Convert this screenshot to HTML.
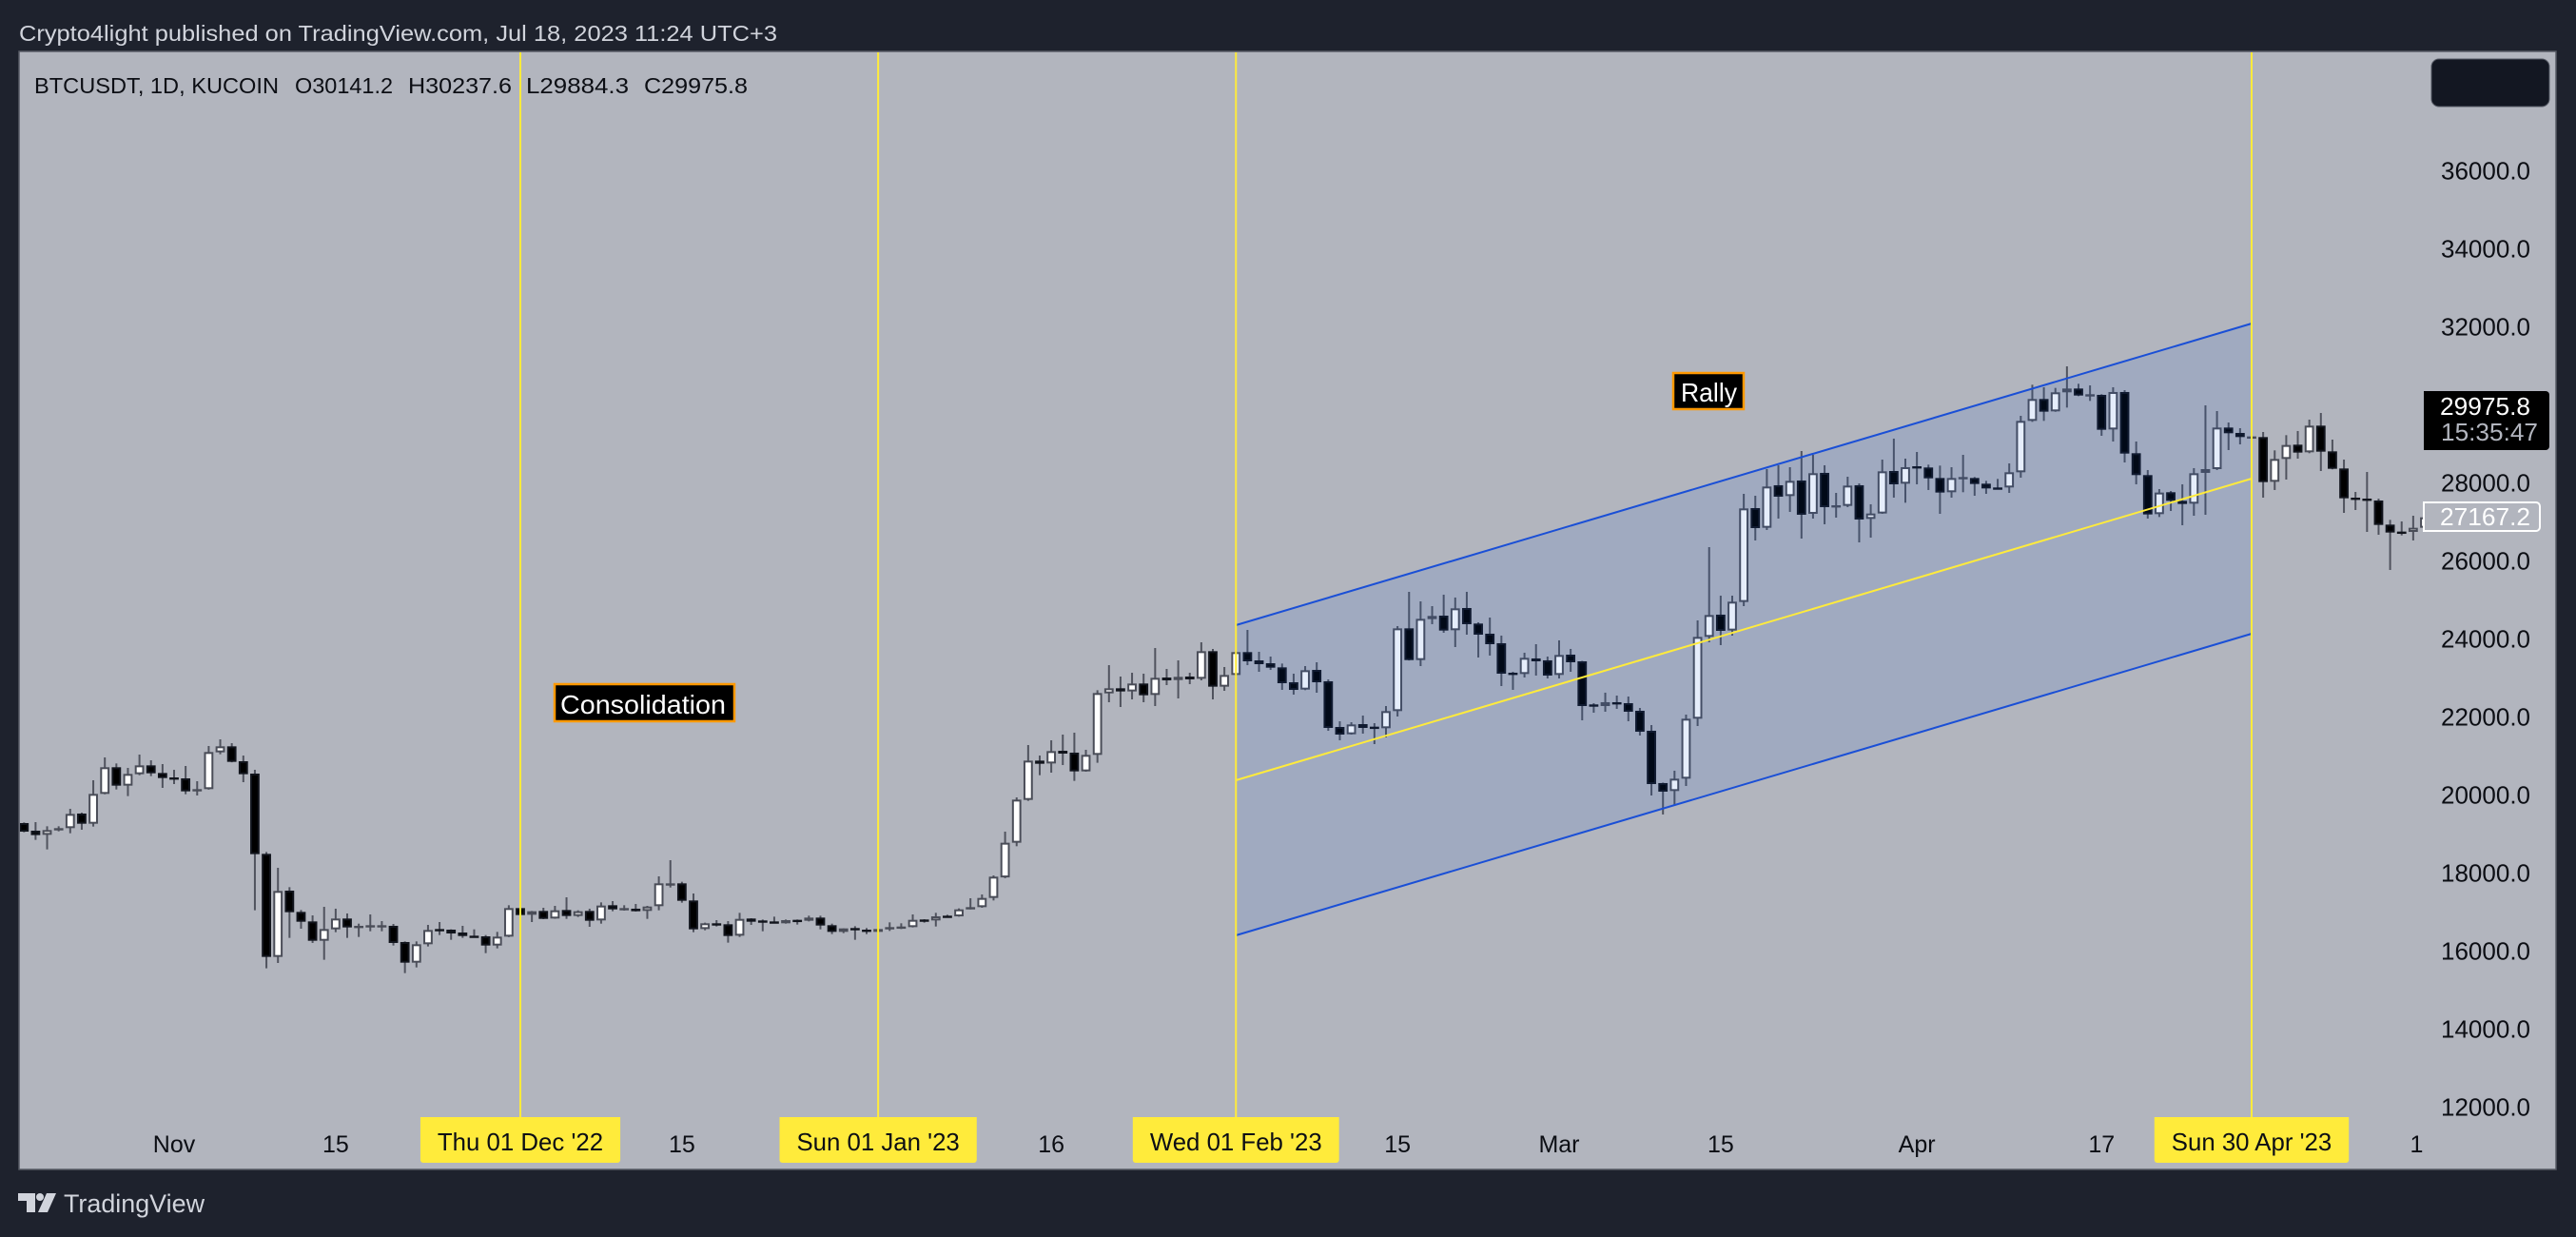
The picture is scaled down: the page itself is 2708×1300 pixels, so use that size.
<!DOCTYPE html>
<html lang="en">
<head>
<meta charset="utf-8">
<title>BTCUSDT chart</title>
<style>
html,body{margin:0;padding:0;background:#1e222d;width:2708px;height:1300px;overflow:hidden}
svg{display:block;font-family:"Liberation Sans",sans-serif}
</style>
</head>
<body>
<svg id="chart" xmlns="http://www.w3.org/2000/svg" width="2708" height="1300" viewBox="0 0 2708 1300">
  <rect x="0" y="0" width="2708" height="1300" fill="#1e222d"/>
  <text x="20" y="43" font-size="23" fill="#d1d4dc" textLength="797" lengthAdjust="spacingAndGlyphs">Crypto4light published on TradingView.com, Jul 18, 2023 11:24 UTC+3</text>
  <rect x="20" y="54" width="2667" height="1175" fill="#b2b5be" stroke="#565a65" stroke-width="1.5"/>
  <defs>
    <clipPath id="plot-clip"><rect x="21" y="55" width="2665" height="1173"/></clipPath>
  </defs>
  <g id="candles" clip-path="url(#plot-clip)"></g>
  <g id="drawings"></g>
  <g id="legend" font-size="23" fill="#0c0e14">
    <text x="36" y="98" textLength="257" lengthAdjust="spacingAndGlyphs">BTCUSDT, 1D, KUCOIN</text>
    <text x="310" y="98" textLength="103" lengthAdjust="spacingAndGlyphs">O30141.2</text>
    <text x="429" y="98" textLength="109" lengthAdjust="spacingAndGlyphs">H30237.6</text>
    <text x="553" y="98" textLength="108" lengthAdjust="spacingAndGlyphs">L29884.3</text>
    <text x="677" y="98" textLength="109" lengthAdjust="spacingAndGlyphs">C29975.8</text>
  </g>
  <rect x="2556" y="62" width="124" height="50" rx="8" fill="#131722" stroke="#565a65" stroke-width="1"/>
  <g id="y-axis"></g>
  <g id="x-axis"></g>
  <g>
    <path d="M2548 411H2676a4 4 0 0 1 4 4V469a4 4 0 0 1 -4 4H2548Z" fill="#000"/>
    <text x="2565" y="436" font-size="26" fill="#fff" textLength="95" lengthAdjust="spacingAndGlyphs">29975.8</text>
    <text x="2566" y="463" font-size="26" fill="#b2b5be" textLength="102" lengthAdjust="spacingAndGlyphs">15:35:47</text>
  </g>
  <g>
    <path d="M2548 528H2666a4 4 0 0 1 4 4V554a4 4 0 0 1 -4 4H2548Z" fill="#b2b5be" stroke="#fff" stroke-width="2"/>
    <text x="2565" y="552" font-size="26" fill="#fff" textLength="95" lengthAdjust="spacingAndGlyphs">27167.2</text>
  </g>
  <g>
    <rect x="583" y="719" width="189" height="39" fill="#000" stroke="#ff9800" stroke-width="2.5"/>
    <text x="589" y="750" font-size="28" fill="#fff" textLength="174" lengthAdjust="spacingAndGlyphs">Consolidation</text>
  </g>
  <g>
    <rect x="1759" y="392" width="74" height="38" fill="#000" stroke="#ff9800" stroke-width="2.5"/>
    <text x="1767" y="422" font-size="28" fill="#fff" textLength="59" lengthAdjust="spacingAndGlyphs">Rally</text>
  </g>
  <g fill="#d1d4dc">
    <path d="M19 1254H37V1274H28V1262H19Z"/>
    <circle cx="42" cy="1258" r="4"/>
    <path d="M49 1254H59L50 1274H40Z"/>
    <text x="67" y="1274" font-size="27" textLength="148" lengthAdjust="spacingAndGlyphs">TradingView</text>
  </g>
</svg>
<script>
// Daily BTCUSDT bars, first bar = 19 Oct 2022
const opens = [
19293,19098,18992,19106,19163,19537,19276,20041,20724,20252,
20545,20772,20577,20463,20439,20106,20163,21106,21260,20878,
20561,18504,15862,17561,17016,16772,16276,16569,16846,16626,
16626,16626,16659,16244,15715,16187,16577,16561,16488,16406,
16390,16154,16382,17114,16943,17041,16846,17065,16911,17041,
16797,17187,17065,17098,17041,17163,17715,17748,17309,16577,
16724,16699,16406,16846,16797,16772,16724,16813,16789,16870,
16675,16504,16602,16561,16504,16569,16602,16626,16821,16797,
16919,16902,17089,17138,17374,17900,18789,19886,20894,20821,
21146,21098,20618,21041,22618,22748,22667,22870,22577,23024,
22959,23049,22992,23699,22789,23089,23675,23463,23390,23284,
22902,22715,23219,22927,21756,21569,21829,21764,21724,22163,
24284,23471,24521,24610,24236,24805,24407,24147,23903,23147,
23114,23513,23464,23090,23610,23439,22334,22293,22391,22366,
22171,21659,20318,20114,20431,21968,24065,24635,24228,24960,
27366,26862,27952,27675,28074,27220,28269,27391,27423,27952,
27090,27228,28317,27992,28439,28407,28138,27773,28114,28138,
27992,27895,27895,28285,29602,30163,29846,30334,30431,30236,
30269,29382,30342,28773,28212,27212,27773,27553,27480,28269,
28366,29431,29293,29171,29187,28041,28626,28992,28797,29480,
28821,28382,27634,27610,27561,26943,26765,26756,26862];
const highs = [
19309,19317,19211,19211,19658,19561,20390,20976,20821,20707,
21049,20902,20805,20658,20756,20366,21268,21439,21341,21024,
20658,18553,18146,17650,17065,16927,17146,17098,16976,16715,
16951,16780,16707,16260,16260,16683,16756,16569,16659,16569,
16423,16504,17187,17138,17040,17122,17171,17390,17057,17098,
17260,17293,17187,17219,17171,17927,18341,17789,17488,16740,
16805,16780,16992,16854,16821,16894,16821,16821,16919,16919,
16715,16593,16650,16602,16585,16748,16724,16951,16829,16992,
16943,17106,17366,17463,17951,19073,19951,21293,21024,21415,
21561,21610,21171,22699,23341,23049,23146,23122,23780,23244,
23463,23146,23927,23756,23293,23690,24244,23683,23561,23382,
23122,23317,23415,22976,21902,21878,22049,21854,22293,24341,
25219,24976,24854,25147,25074,25220,24439,24561,24098,23171,
23659,23878,23561,23976,23757,23450,22366,22635,22561,22537,
22244,21805,20330,20635,22074,24488,26366,25122,25122,27732,
27683,28366,28464,28415,28830,28732,28464,27756,28171,28000,
27464,28610,29147,28634,28805,28480,28456,28415,28732,28163,
28065,28114,28512,29732,30529,30464,30447,31000,30553,30512,
30285,30464,30390,29073,28342,27854,27805,27976,28391,30000,
29854,29561,29415,29252,29317,28846,29236,29342,29634,29805,
29122,28610,27781,28293,27610,27065,27025,27171,27220];
const lows = [
19057,18862,18618,19081,19032,19122,19203,20030,20154,19984,
20520,20496,20195,20293,20032,20000,20150,21057,20850,20341,
17057,15569,15707,16350,16585,16220,15789,16496,16350,16374,
16520,16520,16154,15447,15593,16130,16423,16301,16350,16366,
15959,16081,16370,16919,16756,16830,16840,16837,16886,16634,
16715,17033,17049,17025,16837,17057,17642,17252,16496,16545,
16642,16228,16374,16683,16520,16724,16715,16691,16772,16569,
16447,16472,16301,16447,16496,16528,16577,16618,16740,16642,
16886,16894,17080,17122,17309,17880,18699,19862,20520,20585,
20780,20374,20610,20837,22390,22268,22463,22390,22293,22829,
22488,22854,22951,22463,22683,23073,23341,23171,23219,22707,
22585,22700,22634,21658,21415,21561,21585,21317,21488,22024,
23460,23317,24391,24171,23805,24122,23537,23586,22805,22708,
23025,23074,23000,23000,23171,21927,22122,22147,22220,21903,
21537,20000,19513,19740,20244,21781,23927,23854,24098,24854,
26537,26805,27098,27269,26586,27098,26952,27122,27391,26488,
26610,27220,27635,27504,27976,27830,27220,27634,27773,27683,
27732,27846,27756,28147,29577,29602,29835,29943,30236,30114,
29220,29073,28537,27976,27098,27138,27293,26927,27171,27195,
28342,28854,29000,29147,27634,27830,28098,28634,28773,28317,
28360,27244,27317,26756,26683,25781,26667,26537,26813];
const closes = [
19073,18984,19114,19163,19528,19276,20041,20724,20252,20553,
20772,20569,20447,20415,20106,20163,21114,21260,20862,20545,
18496,15862,17553,17008,16764,16276,16577,16846,16618,16659,
16675,16675,16220,15715,16187,16553,16528,16463,16398,16374,
16154,16382,17114,16935,17033,16837,17057,16911,17033,16789,
17179,17081,17114,17033,17154,17748,17748,17301,16569,16724,
16691,16398,16837,16764,16748,16740,16805,16772,16870,16667,
16504,16593,16553,16504,16577,16626,16642,16813,16789,16902,
16894,17081,17138,17374,17919,18789,19894,20894,20813,21138,
21073,20618,21041,22626,22748,22667,22870,22569,23016,22951,
23041,22976,23699,22789,23089,23675,23439,23366,23276,22878,
22707,23211,22902,21732,21561,21821,21732,21707,22163,24284,
23471,24528,24602,24228,24797,24391,24122,23878,23122,23106,
23529,23439,23074,23602,23415,22293,22277,22391,22342,22147,
21635,20293,20098,20431,21968,24065,24626,24220,24968,27358,
26854,27919,27659,28065,27196,28261,27391,27439,27943,27074,
27228,28309,27976,28415,28399,28130,27765,28138,28163,27984,
27870,27862,28285,29602,30163,29838,30334,30431,30252,30285,
29374,30342,28764,28212,27204,27765,27553,27472,28260,28366,
29431,29285,29187,29204,28033,28626,28984,28789,29480,28813,
28374,27618,27594,27553,26935,26740,26716,26862,27130];

// Price-axis tick labels (30000 sits under the last-price tag)
const priceTicks = [36000,34000,32000,28000,26000,24000,22000,20000,18000,16000,14000,12000];
// Time-axis ticks: bar number and printed label
const timeTickBars = [13,27,57,89,119,133,147,164,180,207.3];
const timeTickLabels = ['Nov','15','15','16','15','Mar','15','Apr','17','1'];
// Vertical date markers: bar number and printed label
const markerBars = [43,74,105,193];
const markerLabels = ["Thu 01 Dec '22","Sun 01 Jan '23","Wed 01 Feb '23","Sun 30 Apr '23"];
// Parallel channel anchored on two bars, prices of each rail
const channelBars = [105,193];
const channelTop = [24366,32098];
const channelMid = [20390,28122];
const channelBottom = [16415,24146];

const NS = 'http://www.w3.org/2000/svg';
function xScale(bar){ return 547 + (bar - 43) * 12.1333; }
function yScale(price){ return 180 + (36000 - price) * 0.041; }
function make(tag, parent, attrs, text){
  const el = document.createElementNS(NS, tag);
  for (const k in attrs) el.setAttribute(k, attrs[k]);
  if (text !== undefined) el.textContent = text;
  parent.appendChild(el);
  return el;
}

const candleLayer = document.getElementById('candles');
opens.forEach(function(open, i){
  const close = closes[i];
  const up = close >= open;
  const x = xScale(i);
  const group = make('g', candleLayer, {});
  
  
  const wick = make('line', group, {x1:x, x2:x, y1:yScale(highs[i]), y2:yScale(lows[i]), stroke:'#50535e', 'stroke-width':2});
  
  
  const top = yScale(Math.max(open, close));
  const bottom = yScale(Math.min(open, close));
  const body = make('rect', group, {
    x: x - 3.9,
    y: top + 1,
    width: 7.8,
    height: Math.max(0.4, bottom - top - 2),
    fill: up ? '#ffffff' : '#000000',
    stroke: up ? '#4a4d58' : '#11141c',
    'stroke-width': 2
  });
  
  
});

const drawings = document.getElementById('drawings');
const cx0 = xScale(channelBars[0]);
const cx1 = xScale(channelBars[1]);
const fillShape = make('polygon', drawings, {
  points: cx0+','+yScale(channelTop[0])+' '+cx1+','+yScale(channelTop[1])+' '+cx1+','+yScale(channelBottom[1])+' '+cx0+','+yScale(channelBottom[0]),
  fill: 'rgba(10,85,215,0.105)'
});


const topRail = make('line', drawings, {x1:cx0, x2:cx1, y1:yScale(channelTop[0]), y2:yScale(channelTop[1]), stroke:'#1a4fd6', 'stroke-width':2});


const midRail = make('line', drawings, {x1:cx0, x2:cx1, y1:yScale(channelMid[0]), y2:yScale(channelMid[1]), stroke:'#ffeb3b', 'stroke-width':2});


const bottomRail = make('line', drawings, {x1:cx0, x2:cx1, y1:yScale(channelBottom[0]), y2:yScale(channelBottom[1]), stroke:'#1a4fd6', 'stroke-width':2});



markerBars.forEach(function(bar){
  const x = xScale(bar);
  const line = make('line', drawings, {x1:x, x2:x, y1:55, y2:1174, stroke:'#ffeb3b', 'stroke-width':2});
  
  
});

const yAxis = document.getElementById('y-axis');
priceTicks.forEach(function(p){
  const t = make('text', yAxis, {x:2660, y:yScale(p)+8.5, 'text-anchor':'end', 'font-size':26, fill:'#0c0e14'}, p.toFixed(1));
  
  
});

const xAxis = document.getElementById('x-axis');
timeTickBars.forEach(function(bar, i){
  const t = make('text', xAxis, {x:xScale(bar), y:1211, 'text-anchor':'middle', 'font-size':25, fill:'#0c0e14'}, timeTickLabels[i]);
  
  
});
markerBars.forEach(function(bar, i){
  const x = xScale(bar);
  const box = make('path', xAxis, {fill: '#ffeb3b'});
  
  
  const t = make('text', xAxis, {x:x, y:1209, 'text-anchor':'middle', 'font-size':25.8, fill:'#0c0e14'}, markerLabels[i]);
  
  
  const hw = t.getComputedTextLength() / 2 + 18;
  box.setAttribute('d', 'M'+(x-hw)+' 1174H'+(x+hw)+'V1219a3 3 0 0 1 -3 3H'+(x-hw+3)+'a3 3 0 0 1 -3 -3Z');
});
</script>
</body>
</html>
